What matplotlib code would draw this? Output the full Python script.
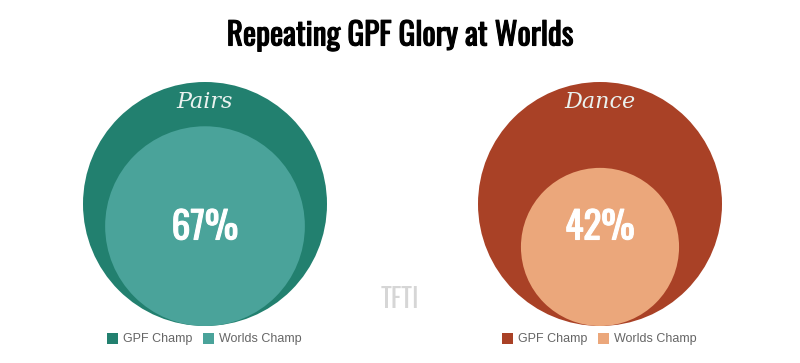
import matplotlib
matplotlib.use('Agg')
import matplotlib.pyplot as plt
from matplotlib.patches import Circle, Rectangle
from matplotlib import font_manager
import matplotlib.patheffects as pe
import numpy as np

names = {f.name for f in font_manager.fontManager.ttflist}
condensed = 'DejaVu Sans'
for cand in ['Oswald', 'Roboto Condensed', 'Liberation Sans Narrow', 'DejaVu Sans Condensed', 'Open Sans Condensed']:
    if cand in names:
        condensed = cand
        break

# data
categories = ['Pairs', 'Dance']
worlds_pct = [67, 42]
legend_labels = ['GPF Champ', 'Worlds Champ']
outer_colors = ['#22806F', '#A94126']
inner_colors = ['#4AA39A', '#EBA77B']

W, H = 800, 363
fig = plt.figure(figsize=(W / 100, H / 100), dpi=100)
ax = fig.add_axes([0, 0, 1, 1])
ax.set_xlim(0, W)
ax.set_ylim(H, 0)
ax.axis('off')

ax.text(400, 36, 'Repeating GPF Glory at Worlds', ha='center', va='center',
        fontsize=22.5, fontweight='bold', family=condensed, color='black',
        path_effects=[pe.withStroke(linewidth=0.8, foreground='black')])

R = 122
centers_x = [205, 600]
bottom_y = 326
for i, cat in enumerate(categories):
    cx = centers_x[i]
    r = R * np.sqrt(worlds_pct[i] / 100)
    ax.add_patch(Circle((cx, bottom_y - R), R, color=outer_colors[i], lw=0))
    ax.add_patch(Circle((cx, bottom_y - r), r, color=inner_colors[i], lw=0))
    ax.text(cx, 102, cat, ha='center', va='center', fontsize=16, style='italic',
            family='DejaVu Serif', color='#EAF2EF')
    ax.text(cx, 228, f'{worlds_pct[i]}%', ha='center', va='center', fontsize=27,
            fontweight='bold', family=condensed, color='white',
            path_effects=[pe.withStroke(linewidth=0.8, foreground='white')])
    # legend
    lx = cx - 98
    for j, lab in enumerate(legend_labels):
        col = outer_colors[i] if j == 0 else inner_colors[i]
        ax.add_patch(Rectangle((lx, 333), 11, 11, color=col, lw=0))
        ax.text(lx + 16, 339, lab, ha='left', va='center', fontsize=9,
                family='Liberation Sans', color='#666666')
        lx += 96

ax.text(400, 300, 'TFTI', ha='center', va='center', fontsize=19, family=condensed,
        color='#D6D6D6')

fig.savefig('out.png', dpi=100, facecolor='white')
